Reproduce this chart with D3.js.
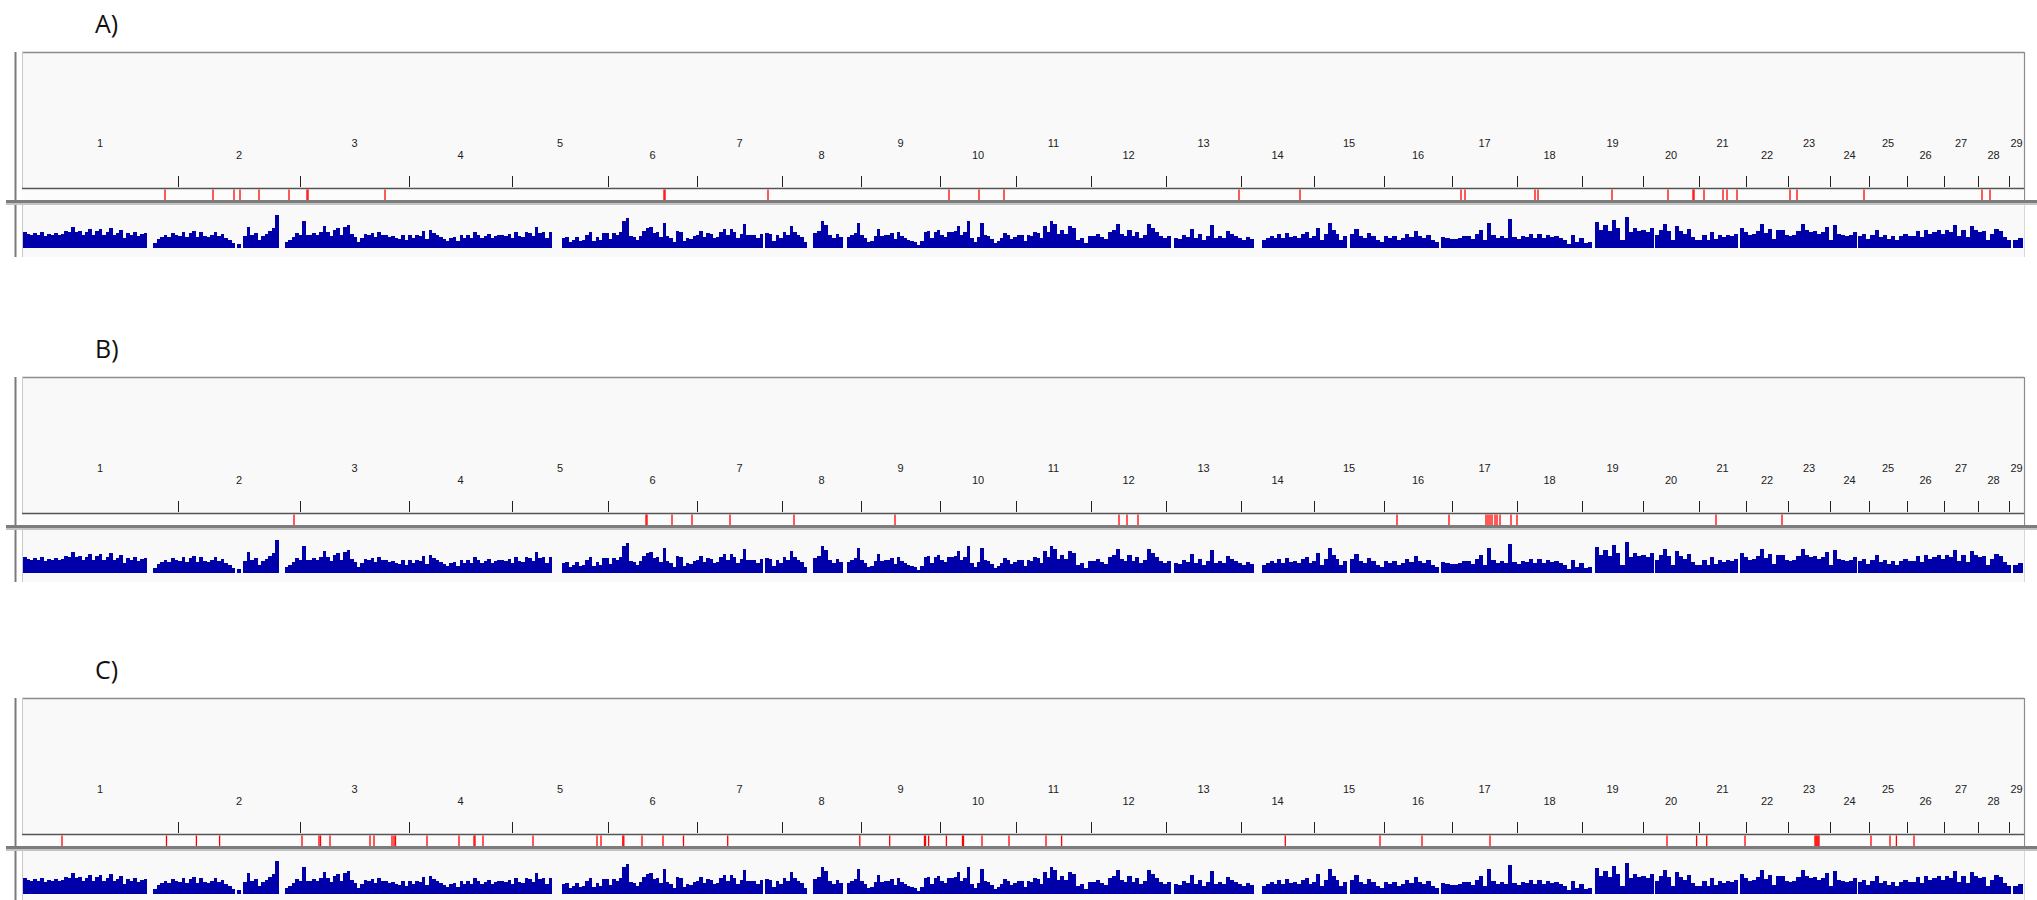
<!DOCTYPE html>
<html><head><meta charset="utf-8">
<script src="https://cdn.jsdelivr.net/npm/d3@7/dist/d3.min.js"></script>
<style>body{margin:0;background:#fff;} svg{display:block}</style>
</head><body><svg id="chart" width="2037" height="900"></svg>
<script>
// ---------------- DATA ----------------
const chromosomes = ["1","2","3","4","5","6","7","8","9","10","11","12","13","14","15","16","17","18","19","20","21","22","23","24","25","26","27","28","29"];
const chromLengths = [156,122,109,103,96,89,85,79,79,76,75,75,75,73,70,68,65,65,61,56,47,42,42,39,38,37,34,31,15];
const panelLabels = ["A)","B)","C)"];

// SNP positions (cumulative genome coordinate)
const snpsA = [143,191,212,218,237,267,285,286,363,642,643,746,927,957,982,1217,1278,1439,1443,1513,1516,1590,1646,1671,1672,1682,1701,1705,1715,1768,1775,1842,1960,1968];
const snpsB = [272,624,625,650,670,708,772,873,1097,1105,1116,1375,1427,1464,1466,1468,1470,1473,1475,1478,1489,1495,1694,1760];
const snpsC = [40,144.5,174.4,197.6,280,297,298.5,308,348,352,370,372,373.5,405,437,452,453,461,511,575,579,600.8,601.8,620,641,661.5,705.7,837.8,867.7,902.5,903.5,906.6,924.4,940.5,941.5,960,987,1024,1039.6,1263.3,1358,1400,1468,1645,1674.6,1684.7,1723,1793,1794,1795,1796,1797,1849,1868,1874.4,1892];

// density track: covered segments (genome coordinate) and bin values in each
const densitySegments = [[1,125],[131,213],[215,219],[221,257],[263,530],[540,741],[743,785],[791,821],[825,1038],[1038,1149],[1152,1232],[1240,1325],[1328,1417],[1419,1570],[1573,1632],[1633,1716],[1718,1835],[1836,1989],[1991,2001]];
const densityValues = [
 [16,14,13,15,13,16,12,14,13,15,13,14,17,16,21,16,17,13,16,19,13,17,19,13,16,20,13,15,18,10,15,13,16,12,14,15],
 [5,9,11,13,11,15,13,12,16,11,15,17,11,16,12,11,13,16,12,14,10,8,5],
 [4],
 [12,21,13,15,8,12,14,17,20,33],
 [6,8,11,15,13,27,13,13,15,13,16,22,16,12,18,20,13,21,23,14,11,6,10,14,13,15,11,16,13,13,11,12,10,9,13,8,13,10,13,12,17,9,18,15,13,11,9,7,10,11,7,13,10,13,10,16,13,10,12,14,10,12,13,13,12,14,10,16,12,11,16,15,12,21,15,16,10,16],
 [10,11,6,8,11,7,8,13,16,7,11,8,15,15,9,15,13,16,27,30,12,11,8,12,17,20,21,15,16,11,25,12,10,6,17,16,7,10,9,12,13,17,11,15,14,10,11,16,19,13,19,16,10,14,24,13,13,13,10,14],
 [15,14,7,13,10,16,13,22,16,13,11,6],
 [15,17,27,23,13,10,14,11],
 [11,13,15,25,13,10,6,7,12,19,12,13,13,15,9,16,12,10,8,7,6,3,7,16,17,10,16,18,13,11,16,16,17,22,13,16,27,10,6,11,25,13,12,9,5,7,10,15,13,9,11,13,13,7,13,12,16,15,10,22,16,27,24,14],
 [18,14,22,20,8,10,5,12,12,14,11,9,16,18,24,14,12,18,12,16,10,13,24,20,16,12,10,12],
 [10,9,13,11,19,10,14,8,12,23,10,12,10,17,14,12,10,8,11,9],
 [8,10,12,10,14,10,15,11,12,10,14,16,10,12,20,8,14,25,18,14,8,12],
 [14,19,12,10,15,12,8,6,12,10,12,8,10,14,11,17,12,10,13,8,6],
 [11,10,9,9,10,12,12,9,14,18,8,25,13,10,12,10,29,11,9,12,11,14,10,14,10,13,11,12,10,8,4,13,6,10,5,6],
 [26,18,23,17,28,20,8,31,16,20,17,18,16,20],
 [13,18,24,17,8,22,17,14,19,11,8,8,13,8,16,9,13,11,13,12,14],
 [20,16,13,14,17,24,15,19,9,18,18,13,12,13,17,24,18,16,17,14,16,21,8,23,14,13,12,13,16],
 [12,14,9,13,18,11,13,9,12,8,12,14,12,12,17,11,18,14,16,18,14,18,16,23,12,18,11,22,18,16,17,8,14,19,17,11,8],
 [8,10]
];

// ---------------- LAYOUT ----------------
const svg = d3.select("#chart");
const W = 2037;
const panelTops = [52, 377, 698];
const frameLeft = 22, frameRight = 2024;

const chromStarts = [];
let acc = 0;
chromLengths.forEach(l => { chromStarts.push(acc); acc += l; });
const genomeTotal = acc;

const x = d3.scaleLinear().domain([0, genomeTotal]).range([frameLeft, frameRight]);
const yDens = d3.scaleLinear().domain([0, 35]).range([0, 35]);

const snpSets = [snpsA, snpsB, snpsC];

panelLabels.forEach((lab, pi) => {
  const T = panelTops[pi];
  const g = svg.append("g").attr("transform", `translate(0,${T})`);

  g.append("rect").attr("x", frameLeft).attr("y", 0)
    .attr("width", frameRight - frameLeft).attr("height", 205)
    .attr("fill", "#f9f9f9");

  svg.append("text").attr("x", 95).attr("y", T - 19)
    .attr("font-family", "'Open Sans', 'Noto Sans', sans-serif")
    .attr("font-size", 25).attr("fill", "#111").text(lab);

  g.append("line").attr("x1", frameLeft).attr("x2", frameRight).attr("y1", 0.5).attr("y2", 0.5)
    .attr("stroke", "#8c8c8c").attr("stroke-width", 1.5);
  g.append("line").attr("x1", frameRight + 0.5).attr("x2", frameRight + 0.5).attr("y1", 0).attr("y2", 150)
    .attr("stroke", "#8c8c8c").attr("stroke-width", 1.2);
  g.append("line").attr("x1", frameRight + 0.5).attr("x2", frameRight + 0.5).attr("y1", 150).attr("y2", 205)
    .attr("stroke", "#d8d8d8").attr("stroke-width", 1);
  g.append("line").attr("x1", frameLeft + 0.5).attr("x2", frameLeft + 0.5).attr("y1", 0).attr("y2", 205)
    .attr("stroke", "#c8c8c8").attr("stroke-width", 1);
  g.append("line").attr("x1", 15.5).attr("x2", 15.5).attr("y1", 0).attr("y2", 205)
    .attr("stroke", "#7a7a7a").attr("stroke-width", 2);

  g.selectAll("text.chr").data(chromosomes).join("text")
    .attr("class", "chr")
    .attr("x", (d, i) => x(chromStarts[i] + chromLengths[i] / 2))
    .attr("y", (d, i) => i % 2 === 0 ? 95 : 107)
    .attr("text-anchor", "middle")
    .attr("font-family", "'Liberation Sans', Arial, sans-serif")
    .attr("font-size", 11).attr("fill", "#222").text(d => d);

  g.selectAll("line.tick").data(chromStarts.slice(1)).join("line")
    .attr("class", "tick")
    .attr("x1", d => Math.round(x(d)) + 0.5).attr("x2", d => Math.round(x(d)) + 0.5)
    .attr("y1", 124).attr("y2", 135)
    .attr("stroke", "#222").attr("stroke-width", 1);

  g.append("rect").attr("x", frameLeft).attr("y", 136).attr("width", frameRight - frameLeft).attr("height", 12)
    .attr("fill", "#fcfcfc");
  g.append("line").attr("x1", frameLeft).attr("x2", frameRight).attr("y1", 136.5).attr("y2", 136.5)
    .attr("stroke", "#555").attr("stroke-width", 1.5);

  g.selectAll("line.snp").data(snpSets[pi]).join("line")
    .attr("class", "snp")
    .attr("x1", d => x(d)).attr("x2", d => x(d))
    .attr("y1", 137.5).attr("y2", 148)
    .attr("stroke", "#ff0000").attr("stroke-width", 1.3);

  g.append("line").attr("x1", 6).attr("x2", W).attr("y1", 149.5).attr("y2", 149.5)
    .attr("stroke", "#7c7c7c").attr("stroke-width", 3);
  g.append("line").attr("x1", 6).attr("x2", W).attr("y1", 152).attr("y2", 152)
    .attr("stroke", "#c4c4c4").attr("stroke-width", 2);

  const base = 196;
  const bars = [];
  densitySegments.forEach((seg, si) => {
    const vals = densityValues[si];
    const step = (seg[1] - seg[0]) / vals.length;
    vals.forEach((v, k) => bars.push({ s: seg[0] + k * step, e: seg[0] + (k + 1) * step, v }));
  });
  g.selectAll("rect.dens").data(bars).join("rect")
    .attr("class", "dens")
    .attr("x", d => x(d.s))
    .attr("width", d => x(d.e) - x(d.s) + 0.15)
    .attr("y", d => base - yDens(d.v))
    .attr("height", d => yDens(d.v))
    .attr("fill", "#0000aa")
    .attr("shape-rendering", "crispEdges");
});
</script>
</body></html>
